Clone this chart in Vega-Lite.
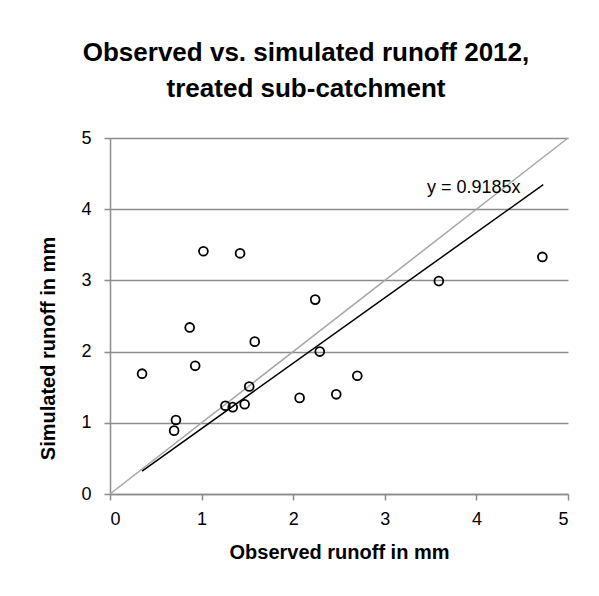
{
  "$schema": "https://vega.github.io/schema/vega-lite/v6.json",
  "width": 458,
  "height": 356,
  "autosize": {"type": "none"},
  "padding": {"left": 110, "top": 138, "right": 31, "bottom": 102},
  "background": "white",
  "config": {
    "font": "Liberation Sans, Arial",
    "view": {"stroke": null}
  },
  "title": {
    "text": ["Observed vs. simulated runoff 2012,", "treated sub-catchment"],
    "fontSize": 26,
    "fontWeight": "bold",
    "color": "black",
    "anchor": "middle",
    "frame": "group",
    "dx": -33,
    "offset": 27,
    "lineHeight": 36,
    "font": "Liberation Sans, Arial"
  },
  "datasets": {
    "points": [
      {"obs": 0.35, "sim": 1.69},
      {"obs": 0.72, "sim": 1.04},
      {"obs": 0.70, "sim": 0.89},
      {"obs": 0.87, "sim": 2.34},
      {"obs": 0.93, "sim": 1.80},
      {"obs": 1.02, "sim": 3.41},
      {"obs": 1.42, "sim": 3.38},
      {"obs": 1.26, "sim": 1.24},
      {"obs": 1.34, "sim": 1.22},
      {"obs": 1.47, "sim": 1.26},
      {"obs": 1.52, "sim": 1.51},
      {"obs": 1.58, "sim": 2.14},
      {"obs": 2.07, "sim": 1.35},
      {"obs": 2.24, "sim": 2.73},
      {"obs": 2.29, "sim": 2.00},
      {"obs": 2.47, "sim": 1.40},
      {"obs": 2.70, "sim": 1.66},
      {"obs": 3.59, "sim": 2.99},
      {"obs": 4.72, "sim": 3.33}
    ],
    "lines": [
      {"series": "1:1", "obs": 0, "sim": 0},
      {"series": "1:1", "obs": 5, "sim": 5},
      {"series": "trend", "obs": 0.35, "sim": 0.3215},
      {"series": "trend", "obs": 4.73, "sim": 4.3445}
    ],
    "label": [
      {"obs": 3.46, "sim": 4.30, "text": "y = 0.9185x"}
    ]
  },
  "layer": [
    {
      "data": {"name": "lines"},
      "mark": {"type": "line", "strokeWidth": 1.5},
      "encoding": {
        "x": {
          "field": "obs", "type": "quantitative",
          "scale": {"domain": [0, 5], "nice": false},
          "axis": {
            "title": "Observed runoff in mm",
            "values": [0, 1, 2, 3, 4, 5],
            "format": "d",
            "grid": false,
            "domainColor": "#8c8c8c",
            "domainWidth": 1.5,
            "tickColor": "#8c8c8c",
            "tickWidth": 1.5,
            "tickSize": 6,
            "labelFontSize": 18,
            "labelColor": "black",
            "labelPadding": 10,
            "titleFontSize": 20,
            "titleFontWeight": "bold",
            "titleColor": "black",
            "titlePadding": 14
          }
        },
        "y": {
          "field": "sim", "type": "quantitative",
          "scale": {"domain": [0, 5], "nice": false},
          "axis": {
            "title": "Simulated runoff in mm",
            "values": [0, 1, 2, 3, 4, 5],
            "format": "d",
            "grid": true,
            "gridColor": "#8c8c8c",
            "gridWidth": 1.5,
            "domainColor": "#8c8c8c",
            "domainWidth": 1.5,
            "tickColor": "#8c8c8c",
            "tickWidth": 1.5,
            "tickSize": 6,
            "labelFontSize": 18,
            "labelColor": "black",
            "labelPadding": 13,
            "titleFontSize": 20,
            "titleFontWeight": "bold",
            "titleColor": "black",
            "titleX": -52,
            "titleY": 210
          }
        },
        "detail": {"field": "series"},
        "color": {
          "field": "series", "type": "nominal",
          "scale": {"domain": ["1:1", "trend"], "range": ["#a6a6a6", "#000000"]},
          "legend": null
        }
      }
    },
    {
      "data": {"name": "points"},
      "mark": {"type": "point", "shape": "circle", "filled": false, "color": "black", "strokeWidth": 1.8, "size": 78, "opacity": 1},
      "encoding": {
        "x": {"field": "obs", "type": "quantitative"},
        "y": {"field": "sim", "type": "quantitative"}
      }
    },
    {
      "data": {"name": "label"},
      "mark": {"type": "text", "align": "left", "baseline": "middle", "fontSize": 18, "color": "black"},
      "encoding": {
        "x": {"field": "obs", "type": "quantitative"},
        "y": {"field": "sim", "type": "quantitative"},
        "text": {"field": "text"}
      }
    }
  ]
}
